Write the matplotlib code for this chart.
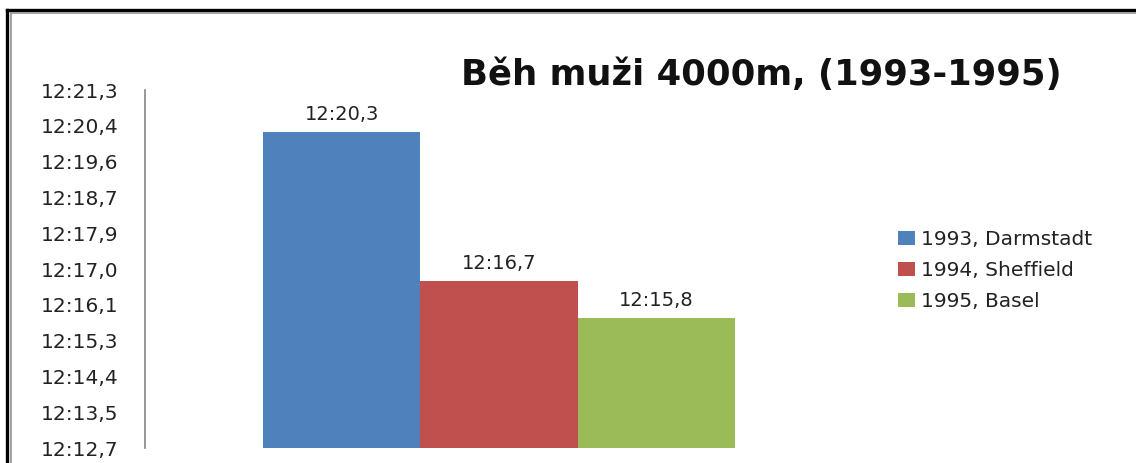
import matplotlib
matplotlib.use("Agg")
import matplotlib.pyplot as plt
from matplotlib.lines import Line2D

# ---- data ----
title = "Běh muži 4000m, (1993-1995)"
series_names = ["1993, Darmstadt", "1994, Sheffield", "1995, Basel"]
series_seconds = [740.3, 736.7, 735.8]          # 12:20,3 / 12:16,7 / 12:15,8
value_labels = ["12:20,3", "12:16,7", "12:15,8"]
colors = ["#4F81BD", "#C0504D", "#9BBB59"]
ytick_values = [732.672, 733.536, 734.400, 735.264, 736.128, 736.992,
                737.856, 738.720, 739.584, 740.448, 741.312]
ytick_labels = ["12:12,7", "12:13,5", "12:14,4", "12:15,3", "12:16,1", "12:17,0",
                "12:17,9", "12:18,7", "12:19,6", "12:20,4", "12:21,3"]

W, H = 1136, 463
fig = plt.figure(figsize=(W / 100, H / 100), dpi=100)
fig.patch.set_facecolor("white")

ax = fig.add_axes([145 / W, (H - 448) / H, (853 - 145) / W, (448 - 90) / H])
ax.set_facecolor("white")

bar_w = 1.0
gap = 1.5 * bar_w
n = len(series_seconds)
x0 = gap / 2
handles = []
for i, (v, c, name, lab) in enumerate(zip(series_seconds, colors, series_names, value_labels)):
    xc = x0 + bar_w / 2 + i * bar_w
    b = ax.bar(xc, v - ytick_values[0], bottom=ytick_values[0], width=bar_w,
               color=c, edgecolor="none", label=name)
    handles.append(b)
    ax.annotate(lab, (xc, v), xytext=(0, 6), textcoords="offset points",
                ha="center", va="bottom", fontsize=14, color="#222222")

ax.set_xlim(0, gap + n * bar_w)
ax.set_ylim(ytick_values[0], ytick_values[-1])
ax.set_xticks([])
ax.set_yticks(ytick_values)
ax.set_yticklabels(ytick_labels, fontsize=14.5, color="#222222")
ax.tick_params(axis="y", length=0, pad=19)
for s in ["top", "right", "bottom"]:
    ax.spines[s].set_visible(False)
ax.spines["left"].set_color("#868686")
ax.spines["left"].set_linewidth(1.2)

fig.text(761 / W, (H - 75) / H, title, ha="center", va="center",
         fontsize=25.5, fontweight="bold", color="#111111")

leg = fig.legend(handles=handles, labels=series_names, loc="upper left",
                 bbox_to_anchor=(890 / W, (H - 222) / H), frameon=False,
                 fontsize=14.5, handlelength=0.85, handleheight=0.65,
                 handletextpad=0.3, labelspacing=0.6, borderaxespad=0)
for t in leg.get_texts():
    t.set_color("#222222")

# frame decoration
fig.add_artist(Line2D([7 / W, 1.0], [(H - 9.5) / H, (H - 9.5) / H], color="black", lw=2.4,
                      transform=fig.transFigure))
fig.add_artist(Line2D([7 / W, 7 / W], [0, (H - 9.5) / H], color="black", lw=2.4,
                      transform=fig.transFigure))
fig.add_artist(Line2D([11 / W, 1.0], [(H - 13) / H, (H - 13) / H], color="#9a9a9a", lw=1.3,
                      transform=fig.transFigure))
fig.add_artist(Line2D([11 / W, 11 / W], [0, (H - 13) / H], color="#9a9a9a", lw=1.3,
                      transform=fig.transFigure))

fig.savefig("out.png", dpi=100, facecolor="white")
